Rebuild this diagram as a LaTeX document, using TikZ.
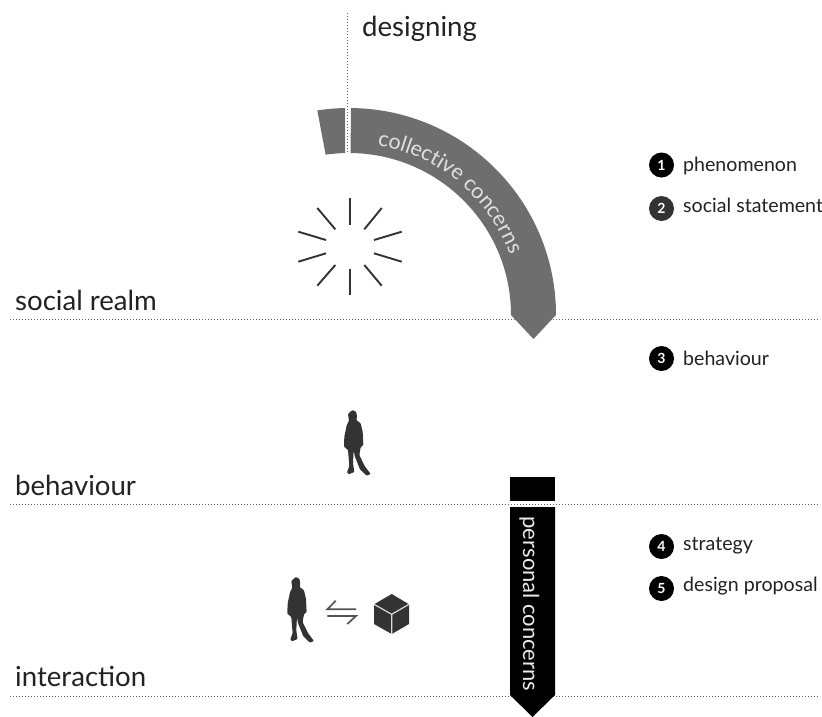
\documentclass[tikz,border=0pt]{standalone}
\usepackage{fontspec}
\setmainfont{Lato}
\usetikzlibrary{decorations.text}
\definecolor{bandgray}{HTML}{6E6E6E}
\definecolor{ink}{HTML}{333333}
\definecolor{txt}{HTML}{222222}
\tikzset{
  guide/.style={draw=black!60,line width=0.6pt,dash pattern=on 1.3pt off 1.7pt},
  realm/.style={anchor=base west,inner sep=0pt,text=txt,font=\fontsize{27.6}{30}\selectfont},
  legend/.style={anchor=base west,inner sep=0pt,text=txt,font=\fontsize{19.6}{22}\selectfont},
  badge/.style={circle,fill=black,text=white,inner sep=0pt,minimum size=25pt,font=\fontsize{14}{16}\selectfont\bfseries},
  ray/.style={draw=ink,line width=1.9pt},
  silhouette/.pic={
    \fill[ink,rounded corners=0.8pt,scale=0.3333]
      (67,30) -- (78,35) -- (81,48) -- (79,60) -- (92,70) -- (98,95) -- (100,135) -- (92,142) -- (88,165)
      -- (104,198) -- (122,222) -- (110,227) -- (90,208) -- (74,168) -- (71,150) -- (69,190) -- (73,216)
      -- (56,223) -- (51,217) -- (58,198) -- (54,150) -- (42,140) -- (43,110) -- (50,76) -- (57,62) -- (54,42) -- cycle;
  }
}
\begin{document}
\begin{tikzpicture}[x=1pt,y=-1pt]
\useasboundingbox[fill=white] (0,0) rectangle (822,716);
% guides
\draw[guide] (347.5,13) -- (347.5,154);
\draw[guide] (10,319) -- (820,319);
\draw[guide] (10,504) -- (820,504);
\draw[guide] (10,696) -- (820,696);
% collective band
\begin{scope}[shift={(349,315)},y=1pt]
  \fill[bandgray] (98.8:207) arc[start angle=98.8,end angle=91.1,radius=207]
     -- (91.4:162) arc[start angle=91.4,end angle=98.3,radius=162] -- cycle;
  \fill[bandgray] (89.5:207) arc[start angle=89.5,end angle=0,radius=207]
     -- (184.5,-24) -- (162,0) arc[start angle=0,end angle=89.4,radius=162] -- cycle;
  \path[decorate,decoration={text along path,text align=center,
     text={|\fontsize{21.5}{23}\selectfont\color{white!88!black}|collective concerns}}]
     (86:172) arc[start angle=86,end angle=15,radius=172];
\end{scope}
% burst
\draw[ray] (350,198) -- (350,225);
\draw[ray] (350,269) -- (350,295);
\draw[ray] (317.3,208) -- (335.3,229.3);
\draw[ray] (381.7,208) -- (364.3,229.3);
\draw[ray] (298.3,231.7) -- (326,240);
\draw[ray] (401.7,231.7) -- (374,240);
\draw[ray] (298.3,261.7) -- (326,253.3);
\draw[ray] (401.7,261.7) -- (374,253.3);
\draw[ray] (317.3,285.7) -- (335.3,265);
\draw[ray] (381.7,285.7) -- (364.3,265);
% people
\pic at (330,400) {silhouette};
\pic at (273.3,567) {silhouette};
% harpoons
\draw[draw=black!68,line width=1.7pt] (356,609.3) -- (327.3,609.3) -- (335.7,600.7);
\draw[draw=black!68,line width=1.7pt] (327.3,616) -- (356,616) -- (347.3,624);
% cube
\fill[ink] (391.7,594) -- (409,604.3) -- (409,624) -- (391.7,634) -- (374,624) -- (374,604.3) -- cycle;
\draw[white!85!black,line width=1.2pt] (374,604.3) -- (391.7,614.3) -- (409,604.3) (391.7,614.3) -- (391.7,634);
% pencil
\fill[black] (510,477) rectangle (555,501);
\fill[black] (510,507) -- (555,507) -- (555,695) -- (532.5,717) -- (510,695) -- cycle;
\node[rotate=-90,anchor=base,inner sep=0pt,text=white!92!black,font=\fontsize{22}{24}\selectfont] (pc) at (523,604) {personal concerns};
% realm labels
\node[realm] (n-des) at (362,36) {designing};
\node[realm] (n-soc) at (15,310) {social realm};
\node[realm] (n-beh) at (15,495) {behaviour};
\node[realm] (n-int) at (15,686) {interaction};
% legend
\node[badge] (b1) at (661.5,165) {1};
\node[badge,fill=ink] (b2) at (661.5,208.5) {2};
\node[badge] (b3) at (661.5,358.5) {3};
\node[badge] (b4) at (661.5,546.5) {4};
\node[badge] (b5) at (661.5,588.5) {5};
\node[legend] (l1) at (683,171.5) {phenomenon};
\node[legend] (l2) at (683,212.5) {social statement};
\node[legend] (l3) at (683,365) {behaviour};
\node[legend] (l4) at (683,550.5) {strategy};
\node[legend] (l5) at (683,591.5) {design proposal};
\end{tikzpicture}
\end{document}
